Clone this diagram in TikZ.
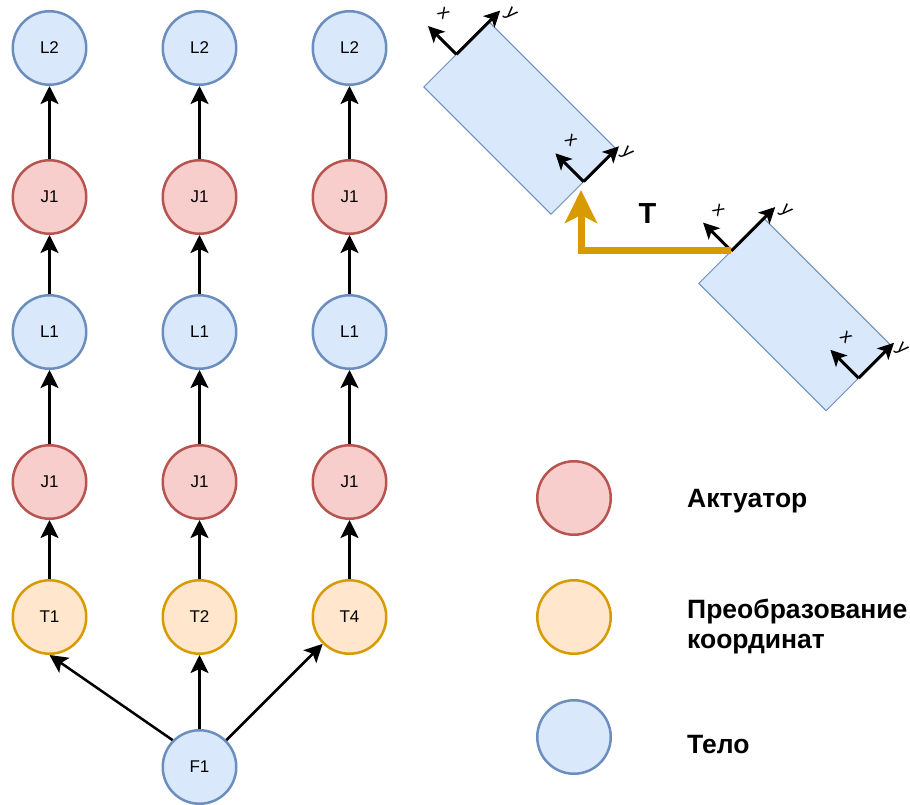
\documentclass[tikz,border=0pt]{standalone}
\usepackage{fontspec}
\setmainfont{Liberation Sans}
\usetikzlibrary{arrows.meta}
\definecolor{bodyfill}{HTML}{DAE8FC}
\definecolor{bodyline}{HTML}{6C8EBF}
\definecolor{actfill}{HTML}{F8CECC}
\definecolor{actline}{HTML}{B85450}
\definecolor{trfill}{HTML}{FFE6CC}
\definecolor{trline}{HTML}{D79B00}
\tikzset{
  joint/.style={circle, minimum size=73.5pt, inner sep=0pt, line width=2.5pt,
    font=\fontsize{17}{20}\selectfont},
  body/.style={joint, draw=bodyline, fill=bodyfill},
  act/.style={joint, draw=actline, fill=actfill},
  trans/.style={joint, draw=trline, fill=trfill},
  link/.style={line width=2.5pt, -{Stealth[length=18pt,width=18pt,inset=4pt]}},
  axis/.style={line width=3pt, -{Stealth[length=16pt,width=16pt,inset=4pt]}},
  axlabel/.style={font=\fontsize{19}{22}\selectfont, inner sep=0pt},
  legend/.style={anchor=base west, inner sep=0pt, align=left,
    font=\fontsize{26.5}{30}\selectfont\bfseries}
}
\begin{document}
\begin{tikzpicture}[x=1pt,y=-1pt]
  \useasboundingbox (0,0) rectangle (910,805);
  % chains: T -> J1 -> L1 -> J1 -> L2
  \foreach \c/\x/\t in {1/49.5/T1, 2/199.5/T2, 3/349.5/T4}{
    \node[trans] (t\c) at (\x,617) {\t};
    \node[act] (ja\c) at (\x,482) {J1};
    \node[body] (la\c) at (\x,332) {L1};
    \node[act] (jb\c) at (\x,197) {J1};
    \node[body] (lb\c) at (\x,48) {L2};
    \draw[link] (t\c) -- (ja\c);
    \draw[link] (ja\c) -- (la\c);
    \draw[link] (la\c) -- (jb\c);
    \draw[link] (jb\c) -- (lb\c);
  }
  \node[body] (f1) at (199.5,767) {F1};
  \draw[link] (f1.135) -- (t1.south);
  \draw[link] (f1) -- (t2);
  \draw[link] (f1.45) -- (t3.225);
  % two bodies with frames
  \foreach \i/\cx/\cy in {1/520/118, 2/795/314.5}{
    \begin{scope}[shift={(\cx,\cy)}, rotate=-45, transform shape]
      \draw[fill=bodyfill, draw=bodyline, line width=1pt] (-90,-46) rectangle (90,46);
      \coordinate (top\i) at (-90,0);
      \coordinate (bot\i) at (90,0);
      \foreach \e/\yl/\ox/\oy in {-90/62/10/66, 90/50/10/50}{
        \draw[axis] (\e,0) -- (\e-40,0);
        \draw[axis] (\e,0) -- (\e,-\yl);
        \node[axlabel] at (\e-38,-20) {x};
        \node[axlabel] at (\e+\ox,-\oy) {y};
      }
    \end{scope}
  }
  \coordinate (Ttip) at (581,190);
  \draw[line width=7pt, trline, -{Stealth[length=33pt,width=32pt,inset=8pt]}] (top2) -| (Ttip);
  \node[font=\fontsize{29}{34}\selectfont\bfseries, anchor=base] (tlabel) at (647.5,223) {T};
  % legend
  \node[act] (legact) at (574,498) {};
  \node[trans] (legtr) at (574,617) {};
  \node[body] (legbody) at (574,737) {};
  \node[legend] (txtact) at (687,507) {Актуатор};
  \node[legend] (txttr) at (687,648) {Преобразование\\координат};
  \node[legend] (txtbody) at (687,753) {Тело};
\end{tikzpicture}
\end{document}
